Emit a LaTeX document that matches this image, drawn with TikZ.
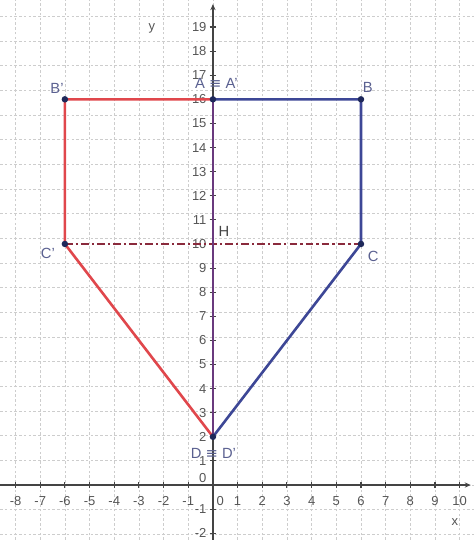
\documentclass[tikz,border=0pt]{standalone}
\usepackage{fontspec}
\setsansfont{Liberation Sans}
\newfontfamily\symfont{DejaVu Sans}
\usetikzlibrary{arrows.meta}
\definecolor{gridgray}{HTML}{CDCDCD}
\definecolor{axisgray}{HTML}{444444}
\definecolor{ticktext}{HTML}{555555}
\definecolor{imagered}{HTML}{E0474C}
\definecolor{origblue}{HTML}{3D4796}
\definecolor{mirrorpurple}{HTML}{6A3A7E}
\definecolor{hlinered}{HTML}{8A2A3C}
\definecolor{ptlabel}{HTML}{5A6090}
\definecolor{ptdot}{HTML}{1E285A}

\begin{document}
\begin{tikzpicture}[
  x=1cm, y=0.977cm,
  every node/.style={font=\sffamily},
  gridline/.style={gridgray, dash pattern=on 3pt off 2.5pt, line width=0.7pt},
  axis/.style={axisgray, line width=1.5pt, -{Stealth[length=7pt,width=6pt]}},
  tickmark/.style={axisgray, line width=1.2pt},
  ticklabel/.style={ticktext, font=\sffamily\fontsize{15}{17}\selectfont, inner sep=1pt},
  ptname/.style={ptlabel, font=\sffamily\fontsize{17}{19}\selectfont, inner sep=1pt},
  redseg/.style={imagered, line width=3pt, line join=round},
  blueseg/.style={origblue, line width=3pt, line join=round},
  mirror/.style={mirrorpurple, line width=2.6pt},
  dashdot/.style={hlinered, line width=2.6pt, dash pattern=on 9pt off 3.5pt on 2.5pt off 3.5pt},
  vertex/.style={circle, fill=ptdot, inner sep=0pt, minimum size=7.5pt},
]
  \useasboundingbox (-8.63,-2.28) rectangle (10.58,20.12);

  % grid
  \draw[gridline] (-8.63,-2.28) grid (10.58,20.12);

  % axes
  \coordinate (xstart) at (-8.63,0);
  \coordinate (xend)   at (10.45,0);
  \coordinate (ystart) at (0,-2.28);
  \coordinate (yend)   at (0,19.95);
  \draw[axis] (xstart) -- (xend);
  \draw[axis] (ystart) -- (yend);

  \foreach \i in {-8,...,10} {
    \draw[tickmark] (\i,-0.13) -- (\i,0.13);
  }
  \foreach \i in {-2,...,19} {
    \draw[tickmark] (-0.13,\i) -- (0.13,\i);
  }
  \foreach \i in {-8,...,-1,1,2,...,10} {
    \node[ticklabel] (xl\i) at (\i,-0.68) {\i};
  }
  \node[ticklabel] (xl0) at (0.3,-0.68) {0};
  \foreach \i in {-2,-1,1,2,...,19} {
    \node[ticklabel, anchor=east] (yl\i) at (-0.22,\i) {\i};
  }
  \node[ticklabel, anchor=east] (yl0) at (-0.22,0.3) {0};
  \node[ticklabel] (xname) at (9.81,-1.53) {x};
  \node[ticklabel] (yname) at (-2.47,18.96) {y};

  % vertices
  \coordinate (A)  at (0,16);
  \coordinate (B)  at (6,16);
  \coordinate (C)  at (6,10);
  \coordinate (D)  at (0,2);
  \coordinate (Bp) at (-6,16);
  \coordinate (Cp) at (-6,10);

  \draw[dashdot] (Cp) -- (C);
  \draw[redseg]  (A) -- (Bp) -- (Cp) -- (D);
  \draw[blueseg] (A) -- (B) -- (C) -- (D);
  \draw[mirror]  (A) -- (D);

  \foreach \p in {A,B,C,D,Bp,Cp} {
    \node[vertex] (dot\p) at (\p) {};
  }

  % labels
  \node[ptname] (labB)  at (6.28,16.5)  {B};
  \node[ptname] (labBp) at (-6.32,16.47) {B'};
  \node[ptname] (labA)  at (0.14,16.66) {A {\symfont ≡} A'};
  \node[ptname] (labC)  at (6.49,9.5)   {C};
  \node[ptname] (labCp) at (-6.69,9.59) {C'};
  \node[ptname] (labD)  at (0.02,1.3)   {D {\symfont ≡} D'};
  \node[ptname, axisgray] (labH) at (0.45,10.5) {H};
\end{tikzpicture}
\end{document}
